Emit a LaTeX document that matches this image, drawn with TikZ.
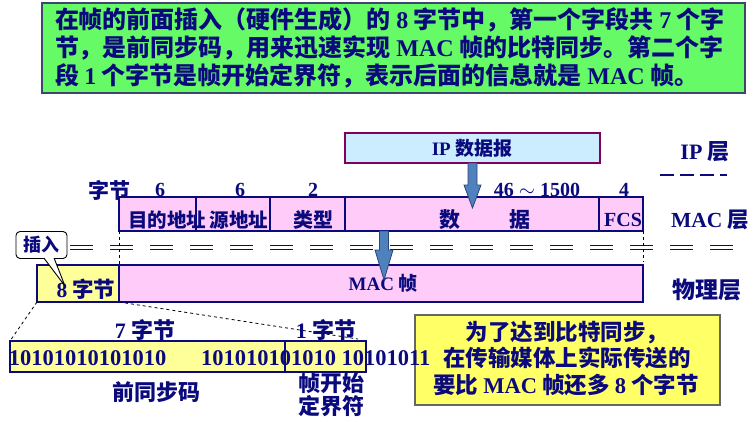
\documentclass[tikz,border=0pt]{standalone}
\usepackage{fontspec}
\setmainfont{Liberation Serif}
\newfontfamily\zhf{Noto Sans CJK SC}
\newcommand\E[1]{{\rmfamily\bfseries #1}}
\usetikzlibrary{shapes.callouts,calc}
\definecolor{navy}{RGB}{10,10,125}
\definecolor{greenfill}{RGB}{102,250,102}
\definecolor{greenline}{RGB}{60,70,110}
\definecolor{pinkfill}{RGB}{255,204,250}
\definecolor{lyellow}{RGB}{255,255,153}
\definecolor{nyellow}{RGB}{255,255,102}
\definecolor{lblue}{RGB}{204,236,255}
\definecolor{purp}{RGB}{128,0,96}
\definecolor{arrfill}{RGB}{79,129,189}
\definecolor{arrline}{RGB}{40,70,120}
\tikzset{
  fs/.style={font=\zhf\bfseries\fontsize{#1}{#1}\selectfont},
  framebox/.style={draw=navy, line width=2pt, inner sep=0pt},
  blockarrow/.style={fill=arrfill, draw=arrline, line width=0.8pt, line join=miter},
  thindash/.style={draw=black, dashed, line width=0.8pt},
  dbldash/.style={navy, line width=1.9pt, dash pattern=on 23pt off 17pt},
}
\begin{document}
\begin{tikzpicture}[x=1pt,y=-1pt, every node/.style={inner sep=0pt, outer sep=0pt, text=navy}]
\useasboundingbox (0,0) rectangle (756,421);

% top green note
\node[draw=greenline, line width=1.2pt, fill=greenfill, minimum width=703pt, minimum height=90pt] (note1) at (393.5,48) {};
\node[fs=24, anchor=west] (l1) at (55,20) {在帧的前面插入（硬件生成）的 \E{8} 字节中，第一个字段共 \E{7} 个字};
\node[fs=24, anchor=west] (l2) at (55,48) {节，是前同步码，用来迅速实现 \E{MAC} 帧的比特同步。第二个字};
\node[fs=24, anchor=west] (l3) at (55,76) {段 \E{1} 个字节是帧开始定界符，表示后面的信息就是 \E{MAC} 帧。};

% IP datagram
\node[draw=purp, line width=2pt, fill=lblue, minimum width=255pt, minimum height=30pt] (ip) at (472.5,148) {};
\node[fs=19] (iptxt) at (472,148) {\E{IP} 数据报};

% MAC header fields
\node[framebox, fill=pinkfill, minimum width=77pt, minimum height=34pt] (dest) at (157.5,214) {};
\node[framebox, fill=pinkfill, minimum width=74pt, minimum height=34pt] (src) at (233,214) {};
\node[framebox, fill=pinkfill, minimum width=75pt, minimum height=34pt] (type) at (307.5,214) {};
\node[framebox, fill=pinkfill, minimum width=254pt, minimum height=34pt] (data) at (472,214) {};
\node[framebox, fill=pinkfill, minimum width=44pt, minimum height=34pt] (fcs) at (621,214) {};

% physical frame
\node[framebox, fill=pinkfill, minimum width=524pt, minimum height=37pt] (mac) at (381,283.5) {};
\node[framebox, fill=lyellow, minimum width=82pt, minimum height=37pt] (eight) at (78,283.5) {};

% preamble boxes
\node[framebox, fill=lyellow, minimum width=275pt, minimum height=31pt] (pre) at (147.5,356.5) {};
\node[framebox, fill=lyellow, minimum width=81pt, minimum height=31pt] (sfd) at (325.5,356.5) {};

% double dashed line
\draw[dbldash] (70,245.5) -- (745,245.5);
\draw[dbldash] (70,249.5) -- (745,249.5);
\draw[thindash] (dest.south west) -- (mac.north west);
\draw[thindash] (fcs.south east) -- ($(mac.north east)+(0,-3)$);
\draw[navy, line width=1.8pt, dash pattern=on 14pt off 6pt] (660,175) -- (727,175);

% zoom dashed lines
\draw[thindash] (eight.south west) -- (pre.north west);
\draw[thindash] (eight.south east) -- ($(sfd.north east)+(-8,-2)$);

% labels above header
\node[fs=21] (zj) at (109,190) {字节};
\node[fs=20] (n1) at (160,190) {\E{6}};
\node[fs=20] (n2) at (240,190) {\E{6}};
\node[fs=20] (n3) at (313,190) {\E{2}};
\node[fs=20] (n4) at (537,190) {\E{46 $\sim$ 1500}};
\node[fs=20] (n5) at (624,190) {\E{4}};

% field labels
\node[fs=19.5] (destt) at (167,220) {目的地址};
\node[fs=19.5] (srct) at (239,220) {源地址};
\node[fs=20] (typet) at (313,220) {类型};
\node[fs=21] (shu) at (450,220) {数};
\node[fs=21] (ju) at (520,220) {据};
\node[fs=20] (fcst) at (623,220) {\E{FCS}};

% layer labels
\node[fs=22] (ipl) at (705,152) {\E{IP} 层};
\node[fs=21.5] (macl) at (710,220) {\E{MAC} 层};
\node[fs=23] (phyl) at (707,290) {物理层};

% frame texts
\node[fs=19] (mact) at (383,283) {\E{MAC} 帧};
\node[fs=21.5] (eightt) at (86,289) {\E{8} 字节};

% callout
\node[rectangle callout, draw=black, fill=white, line width=0.9pt, rounded corners=4pt,
      minimum width=51pt, minimum height=27pt, callout absolute pointer={(65,286)},
      callout pointer width=10pt, fs=18] (ins) at (41.5,245) {插入};

% preamble labels
\node[fs=22] (seven) at (145,330) {\E{7} 字节};
\node[fs=22] (one) at (326,330) {\E{1} 字节};
\node[fs=22] (qtb) at (156,392) {前同步码};
\node[fs=22] (zk1) at (331,383) {帧开始};
\node[fs=22] (zk2) at (331,406) {定界符};

% bottom note
\node[draw=black!60, line width=1.2pt, fill=nyellow, minimum width=305pt, minimum height=90pt] (note2) at (567.5,360) {};
\node[fs=22.5] (m1) at (567,333) {为了达到比特同步，};
\node[fs=22.5] (m2) at (567,358) {在传输媒体上实际传送的};
\node[fs=22.5] (m3) at (566,385) {要比 \E{MAC} 帧还多 \E{8} 个字节};

% bits
\node[fs=22.5, anchor=west] (bits1) at (9,358) {\E{10101010101010}};
\node[fs=22.5, anchor=west] (bits2) at (201,358) {\E{101010101010 10101011}};

% block arrows
\draw[blockarrow] ($(ip.south)+(-4.5,0)$) -- ($(ip.south)+(-4.5,22)$) -- ($(ip.south)+(-8.5,22)$)
  -- ($(ip.south)+(0,45)$) -- ($(ip.south)+(8.5,22)$) -- ($(ip.south)+(4.5,22)$) -- ($(ip.south)+(4.5,0)$) -- cycle;
\coordinate (ma) at ($(data.south west)+(39,0)$);
\draw[blockarrow] ($(ma)+(-4.5,0)$) -- ($(ma)+(-4.5,19)$) -- ($(ma)+(-9,19)$)
  -- ($(ma)+(0,49)$) -- ($(ma)+(9,19)$) -- ($(ma)+(4.5,19)$) -- ($(ma)+(4.5,0)$) -- cycle;
\end{tikzpicture}
\end{document}
